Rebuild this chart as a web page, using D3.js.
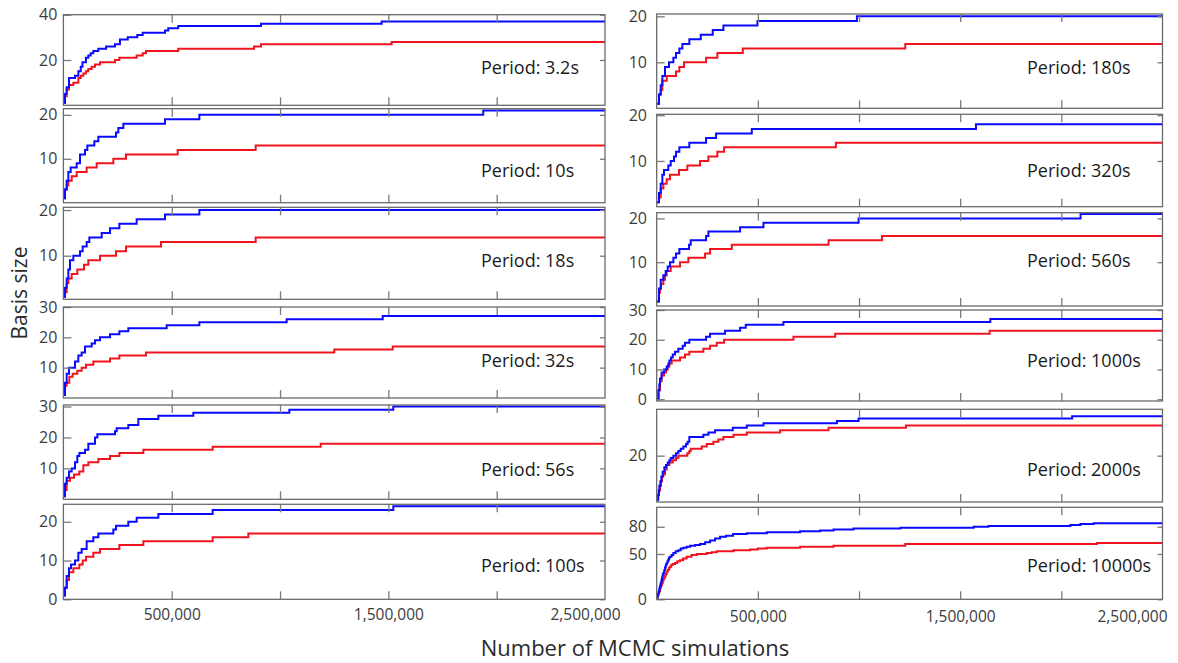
<!DOCTYPE html>
<html><head><meta charset="utf-8">
<script src="https://cdn.jsdelivr.net/npm/d3@7"></script>
<style>body{margin:0;background:#fff}svg{display:block}</style>
</head><body><svg id="c" width="1178" height="663"></svg>
<script>
// ---------------- data ----------------
const periods = ["3.2s","10s","18s","32s","56s","100s","180s","320s","560s","1000s","2000s","10000s"];
const xMax = 2500000;
const xTickValues = [500000,1000000,1500000,2000000];
const xTickLabels = [500000,1500000,2500000];
const yTickValues = [[20,40],[10,20],[10,20],[10,20,30],[10,20,30],[0,10,20],
                     [10,20],[10,20],[10,20],[0,10,20,30],[20],[0,50,80]];
const yDomains = [[0,40],[0,21.4],[0.46,20.6],[0,30],[0,30.5],[0,24.5],
                  [0,20.5],[0,20.2],[0,21.3],[-0.6,30],[0,40],[0,101.5]];

// [number of MCMC simulations, basis size] step points
const blue_3_2s = [[0,1],[7400,5],[15100,8],[26000,12],[53500,13],[69000,15],[80000,17],[88000,19],[104000,21],[115000,22],[126000,23],[138000,24],[161000,25],[197000,26],[238000,27],[261000,29],[297000,30],[341000,31],[366000,32],[469000,33],[484000,34],[530000,35],[912000,36],[1469000,37]];
const red_3_2s  = [[0,1],[7400,4],[15100,7],[26000,9],[46000,10],[69000,12],[80000,13],[92000,14],[104000,15],[115000,16],[130000,17],[146000,18],[169000,19],[238000,20],[258000,21],[338000,22],[366000,23],[381000,24],[530000,25],[880000,26],[912000,27],[1515000,28]];
const blue_10s = [[0,1],[7400,3],[15100,5],[22800,7],[33600,8],[61300,9],[76600,11],[99700,12],[110500,13],[142800,14],[161300,15],[242800,16],[253600,17],[276600,18],[469000,19],[627500,20],[1938000,21]];
const red_10s  = [[0,1],[7400,3],[15100,4],[22800,5],[38200,6],[61300,7],[107400,8],[153600,9],[230500,10],[288900,11],[527500,12],[887500,13]];
const blue_18s = [[0,1],[7400,3],[15100,5],[22800,7],[30500,9],[45800,10],[76600,11],[88900,12],[107400,13],[119700,14],[176700,15],[215100,16],[258200,17],[338200,18],[469000,19],[627500,20]];
const red_18s  = [[0,1],[7400,2],[15100,4],[22800,5],[38200,6],[64300,7],[95100,8],[115100,9],[168900,10],[242800,11],[288900,12],[450500,13],[887500,14]];
const blue_32s = [[0,1],[7400,5],[15100,8],[25800,10],[53500,12],[68900,14],[84300,15],[99700,17],[130500,18],[145900,19],[168900,20],[215100,21],[258200,22],[299700,23],[476700,24],[627500,25],[1030600,26],[1473900,27]];
const red_32s  = [[0,1],[7400,4],[15100,5],[27400,7],[42800,8],[64300,9],[84300,10],[104300,11],[138200,12],[215100,13],[258200,14],[381300,15],[1250500,16],[1520000,17]];
const blue_56s = [[0,1],[7400,5],[15100,7],[25800,9],[38200,10],[53500,12],[64300,14],[73500,15],[99700,16],[115100,18],[145900,20],[156700,21],[238200,22],[245900,23],[299700,24],[345900,26],[438200,27],[599800,28],[1042900,29],[1522800,30]];
const red_56s  = [[0,1],[7400,3],[15100,6],[30500,7],[48900,8],[73500,9],[92000,11],[115100,12],[161300,13],[215100,14],[258200,15],[369000,16],[689000,17],[1187700,18]];
const blue_100s = [[0,1],[7400,3],[15100,6],[25800,8],[35100,9],[53500,10],[68900,12],[84300,13],[107400,15],[138200,16],[161300,17],[230500,18],[242800,19],[299700,20],[338200,21],[438200,22],[689000,23],[1522800,24]];
const red_100s  = [[0,1],[7400,3],[15100,5],[25800,7],[45800,8],[73500,9],[88900,10],[104300,11],[138200,12],[168900,13],[258200,14],[369000,15],[689000,16],[853600,17]];
const blue_180s = [[0,1],[11400,3],[19800,5],[27900,7],[41100,9],[60900,10],[82400,11],[95500,12],[112000,13],[126900,14],[161300,15],[217700,16],[277000,17],[329700,18],[497900,19],[989500,20]];
const red_180s  = [[0,1],[11400,3],[19800,4],[27900,6],[49500,7],[95500,8],[112000,9],[135000,10],[243900,11],[299900,12],[425500,13],[1228500,14]];
const blue_320s = [[0,1],[11400,3],[19800,5],[27900,7],[36100,8],[57400,9],[69300,10],[85600,11],[95500,12],[112000,13],[161300,14],[244000,15],[293400,16],[470000,17],[1578000,18]];
const red_320s  = [[0,1],[11400,2],[19800,4],[32800,5],[49500,6],[65900,7],[110300,8],[151400,9],[214200,10],[255300,11],[299900,12],[333000,13],[885600,14]];
const blue_560s = [[0,1],[11400,4],[19800,6],[32800,7],[44400,8],[54400,9],[65900,10],[82400,11],[95500,12],[112000,13],[160000,14],[168200,15],[244000,16],[255600,17],[412300,18],[527700,19],[997800,20],[2095000,21]];
const red_560s  = [[0,1],[11400,3],[16300,4],[21300,5],[32800,6],[41100,7],[49500,8],[69300,9],[115400,10],[156600,11],[239100,12],[263800,13],[371000,14],[849400,15],[1113300,16]];
const blue_1000s = [[0,0],[8100,3],[13000,5],[16300,7],[24500,9],[36100,10],[49500,11],[57700,12],[62600,13],[70800,14],[79200,15],[90500,16],[107000,17],[128600,18],[140000,19],[161300,20],[244000,21],[263800,22],[337900,23],[412300,24],[440300,25],[626400,26],[1649000,27]];
const red_1000s  = [[0,0],[9700,3],[16300,6],[24500,8],[36100,9],[46100,10],[54400,11],[62600,12],[74200,13],[115400,14],[140000,15],[161300,16],[230600,17],[263800,18],[296900,19],[333000,20],[675900,21],[882200,22],[1645600,23]];
const blue_2000s = [[0,1],[6400,3],[9700,5],[13000,7],[18100,9],[22900,11],[29500,13],[37800,15],[46100,16],[54400,17],[62600,18],[69300,19],[82400,20],[95500,21],[107000,22],[118500,23],[131800,24],[145000,25],[153100,26],[161300,28],[230600,29],[255600,30],[288500,31],[376000,32],[445300,33],[527700,34],[890600,35],[997800,36],[2053300,37]];
const red_2000s  = [[0,1],[8100,3],[11400,5],[16300,7],[21300,9],[26200,11],[32800,12],[41100,14],[49500,16],[62600,17],[79200,18],[95500,19],[107000,20],[151400,21],[161300,22],[168200,23],[222600,24],[247400,25],[280200,26],[304800,27],[329700,28],[379300,29],[445300,30],[610000,31],[849400,32],[1232000,33]];
const blue_10000s = [[0,1],[3200,3],[6400,6],[9700,9],[12900,12],[16300,15],[19800,18],[23000,21],[26200,24],[29500,27],[32700,29],[37000,32],[41100,35],[45000,38],[49500,40],[53500,42],[57400,44],[61500,46],[65800,47],[73500,49],[82100,51],[94000,53],[106900,54],[119000,56],[131600,57],[148000,58],[164800,59],[190000,60],[214200,61],[239000,63],[263700,65],[288500,67],[313200,69],[342900,70],[377500,72],[445300,73],[544200,74],[709000,75],[808000,76],[873800,77],[972700,78],[1205300,79],[1566400,80],[1639200,81],[2044900,82],[2094400,83],[2160200,84]];
const red_10000s  = [[0,1],[3200,3],[6400,5],[9700,7],[12900,9],[16300,12],[19800,14],[23000,16],[26200,18],[29500,20],[32700,22],[37000,24],[41100,26],[45000,28],[49500,30],[53500,32],[57400,33],[61500,35],[65800,36],[72000,38],[80000,39],[90500,40],[102000,42],[115000,43],[130000,45],[148000,47],[172000,49],[197900,50],[247400,51],[272000,52],[296800,53],[379300,54],[461800,55],[500000,56],[544200,57],[709000,58],[873800,59],[1228500,61],[2176000,62]];

const blueSeries = [blue_3_2s,blue_10s,blue_18s,blue_32s,blue_56s,blue_100s,blue_180s,blue_320s,blue_560s,blue_1000s,blue_2000s,blue_10000s];
const redSeries  = [red_3_2s,red_10s,red_18s,red_32s,red_56s,red_100s,red_180s,red_320s,red_560s,red_1000s,red_2000s,red_10000s];

// ---------------- layout ----------------
const cols = [
  {x0:63.4, x1:605, labelPad:6, periodX:481, lastLabelEnd:620, xLabelPad:10},
  {x0:656.7, x1:1162.5, labelPad:9.7, periodX:1027, lastLabelEnd:1167, xLabelPad:12}
];
const rowBounds = [
  [[14.7,105.3],[108.7,202.7],[207.3,299.3],[307,398],[405,499.3],[504.3,599.3]],
  [[14,108.3],[114.3,206.7],[212.7,306],[310,401],[409.3,502],[507.3,599.3]]
];
const periodBaselines = [74,177,267,367,476,571.5];
const FONT = "'Open Sans', 'Noto Sans', sans-serif";
const BLUE = "#0a0aff", RED = "#f0141e";

const svg = d3.select("#c");
svg.append("rect").attr("width",1178).attr("height",663).attr("fill","#fff");

periods.forEach((p,i) => {
  const c = i < 6 ? 0 : 1, r = i % 6;
  const col = cols[c];
  const [top, bottom] = rowBounds[c][r];
  const x = d3.scaleLinear().domain([0,xMax]).range([col.x0, col.x1]);
  const y = d3.scaleLinear().domain(yDomains[i]).range([bottom, top]);
  const g = svg.append("g");

  const clipId = "clip" + i;
  svg.append("clipPath").attr("id", clipId).append("rect")
    .attr("x", col.x0).attr("y", top).attr("width", col.x1 - col.x0).attr("height", bottom - top);

  const line = d3.line().x(d => x(d[0])).y(d => y(d[1])).curve(d3.curveStepAfter);
  const ext = s => s.concat([[xMax, s[s.length-1][1]]]);
  g.append("path").datum(ext(redSeries[i])).attr("d", line)
    .attr("fill","none").attr("stroke",RED).attr("stroke-width",2).attr("clip-path",`url(#${clipId})`);
  g.append("path").datum(ext(blueSeries[i])).attr("d", line)
    .attr("fill","none").attr("stroke",BLUE).attr("stroke-width",2).attr("clip-path",`url(#${clipId})`);

  // inward ticks
  const tickStyle = sel => { sel.select(".domain").remove(); sel.selectAll("line").attr("stroke","#7a7a7a").attr("stroke-width",1.3); };
  g.append("g").attr("transform",`translate(0,${top})`)
    .call(d3.axisBottom(x).tickValues(xTickValues).tickSize(8).tickFormat("")).call(tickStyle);
  g.append("g").attr("transform",`translate(0,${bottom})`)
    .call(d3.axisTop(x).tickValues(xTickValues).tickSize(8).tickFormat("")).call(tickStyle);
  g.append("g").attr("transform",`translate(${col.x0},0)`)
    .call(d3.axisRight(y).tickValues(yTickValues[i]).tickSize(8).tickFormat("")).call(tickStyle);
  g.append("g").attr("transform",`translate(${col.x1},0)`)
    .call(d3.axisLeft(y).tickValues(yTickValues[i]).tickSize(5).tickFormat("")).call(tickStyle);

  // y labels
  const yl = g.append("g").attr("transform",`translate(${col.x0},0)`)
    .call(d3.axisLeft(y).tickValues(yTickValues[i]).tickSize(0).tickPadding(col.labelPad).tickFormat(d3.format("d")));
  yl.select(".domain").remove();
  yl.selectAll("text").attr("font-family",FONT).attr("font-size",16).attr("fill","#3c3c3c");

  // frame
  g.append("rect").attr("x",col.x0).attr("y",top).attr("width",col.x1-col.x0).attr("height",bottom-top)
    .attr("fill","none").attr("stroke","#6a6a6a").attr("stroke-width",1.3);

  // period label
  g.append("text").attr("x",col.periodX).attr("y",periodBaselines[r])
    .attr("font-family",FONT).attr("font-size",18).attr("fill","#1a1a1a").text("Period: " + p);

  // x labels on bottom row
  if (r === 5) {
    const xl = g.append("g").attr("transform",`translate(0,${bottom})`)
      .call(d3.axisBottom(x).tickValues(xTickLabels).tickSize(0).tickPadding(col.xLabelPad).tickFormat(d3.format(",")));
    xl.select(".domain").remove();
    xl.selectAll("text").attr("font-family",FONT).attr("font-size",15.5).attr("fill","#3c3c3c");
    xl.selectAll("text").filter(d => d === xMax)
      .attr("text-anchor","end").attr("x", col.lastLabelEnd - x(xMax));
  }
});

svg.append("text").attr("x",635).attr("y",656).attr("text-anchor","middle")
  .attr("font-family",FONT).attr("font-size",22).attr("fill","#2a2a2a").text("Number of MCMC simulations");
svg.append("text").attr("transform","translate(27,293) rotate(-90)").attr("text-anchor","middle")
  .attr("font-family",FONT).attr("font-size",21).attr("fill","#2a2a2a").text("Basis size");
</script>
</body></html>
